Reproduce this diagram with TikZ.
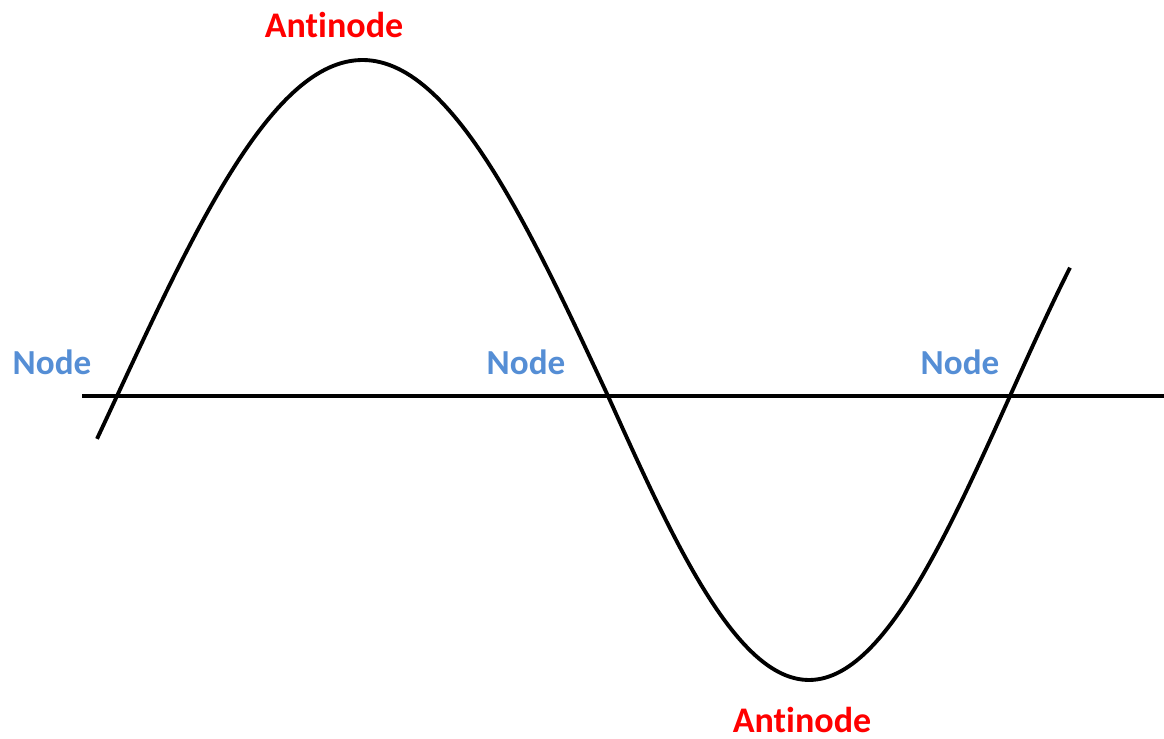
\documentclass[tikz,border=0pt]{standalone}
\usepackage{fontspec}
\setmainfont{Carlito}[RawFeature={-liga;-clig;-calt;-dlig}]
\usepackage{tikz}
\usetikzlibrary{positioning,calc}
\definecolor{myRed}{RGB}{255,0,0}
\definecolor{myBlue}{RGB}{85,142,213}
\tikzset{
	nlabel/.style={
		text=myBlue,
		inner sep=0pt,
		font=\fontsize{20}{24}\selectfont\bfseries
	},
	alabel/.style={
		text=myRed,
		inner sep=0pt,
		font=\fontsize{20.5}{24}\selectfont\bfseries
	},
	wave/.style={line width=2.2pt, black, line join=round},
	axis/.style={line width=2.1pt, black}
}

\begin{document}
\begin{tikzpicture}[x=0.02cm, y=-0.02cm]
		\useasboundingbox (0,0) rectangle (1164,739);
		% axis
		\coordinate (l) at (82,396);
		\coordinate (r) at (1164,396);
		\draw[axis] (l) -- (r);
		% standing wave
		\draw[wave] plot[domain=-20:491, samples=120] ({117+\x},{396-336*sin(\x/491*180)})
			-- plot[domain=0:462, samples=120] ({608+\x},{396+284*sin(\x/402*180)});
		% labels
		\node[alabel] (a1) at (334,25) {Antinode};
		\node[alabel] (a2) at (802,720) {Antinode};
		\node[nlabel] (n1) at (52,362) {Node};
		\node[nlabel] (n2) at (526,362) {Node};
		\node[nlabel] (n3) at (960,362) {Node};
	\end{tikzpicture}
\end{document}
